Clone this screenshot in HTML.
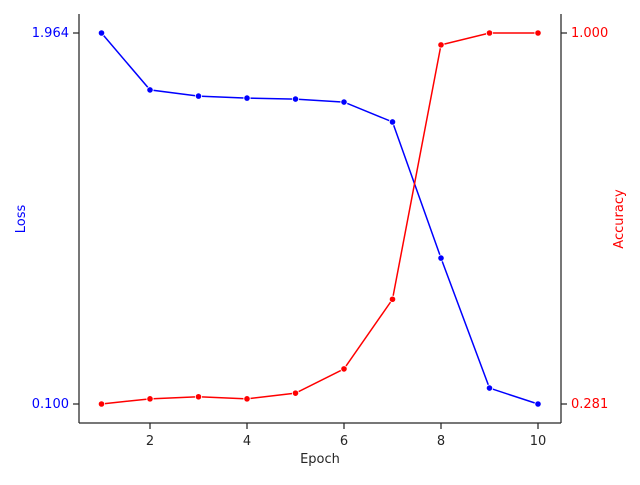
<!DOCTYPE html>
<html><head><meta charset="utf-8"><style>
body{margin:0;background:#fff;}
text{font-family:"DejaVu Sans","Liberation Sans",sans-serif;font-size:13px;}
</style></head><body>
<svg id="chart" width="640" height="480">
<g id="g"></g>
</svg>
<script>
const epochs=[1,2,3,4,5,6,7,8,9,10];
const loss=[1.964,1.678,1.647,1.637,1.632,1.617,1.517,0.833,0.180,0.100];
const accuracy=[0.281,0.291,0.295,0.291,0.302,0.349,0.484,0.977,1.0,1.0];
const xTicks=[2,4,6,8,10];
const lossTicks=[0.100,1.964];
const accTicks=[0.281,1.000];
const NS='http://www.w3.org/2000/svg';
const g=document.getElementById('g');
function el(t,a,p){const e=document.createElementNS(NS,t);for(const k in a)e.setAttribute(k,a[k]);(p||g).appendChild(e);return e;}
const L=79,R=561,T=14,B=423;
const xs=v=>101.5+(v-1)*48.5;
const lmin=Math.min(...loss),lmax=Math.max(...loss);
const amin=Math.min(...accuracy),amax=Math.max(...accuracy);
const yl=v=>404-(v-lmin)/(lmax-lmin)*371;
const ya=v=>404-(v-amin)/(amax-amin)*371;
let e;
e=el('line',{x1:L,y1:T,x2:L,y2:B,stroke:'#262626','stroke-width':1.25});

e=el('line',{x1:R,y1:T,x2:R,y2:B,stroke:'#262626','stroke-width':1.25});

e=el('line',{x1:L,y1:B,x2:R,y2:B,stroke:'#262626','stroke-width':1.25});

xTicks.forEach(v=>{const x=xs(v);
 el('line',{x1:x,y1:B,x2:x,y2:B+6,stroke:'#262626','stroke-width':1.25});
 e=el('text',{x:x,y:B+22,'text-anchor':'middle',fill:'#262626'});e.textContent=v;
 });
lossTicks.forEach(v=>{const y=yl(v);
 el('line',{x1:L-6,y1:y,x2:L,y2:y,stroke:'#262626','stroke-width':1.25});
 e=el('text',{x:L-10,y:y+4,'text-anchor':'end',fill:'blue'});e.textContent=v.toFixed(3);
 });
accTicks.forEach(v=>{const y=ya(v);
 el('line',{x1:R,y1:y,x2:R+6,y2:y,stroke:'#262626','stroke-width':1.25});
 e=el('text',{x:R+10,y:y+4,'text-anchor':'start',fill:'red'});e.textContent=v.toFixed(3);
 });
e=el('text',{x:320,y:463,'text-anchor':'middle',fill:'#262626'});e.textContent='Epoch';

e=el('text',{x:25,y:219,'text-anchor':'middle',fill:'blue',transform:'rotate(-90 25 219)'});e.textContent='Loss';

e=el('text',{x:623,y:219,'text-anchor':'middle',fill:'red',transform:'rotate(-90 623 219)'});e.textContent='Accuracy';

function series(vals,ys,col,name){
 e=el('polyline',{points:vals.map((v,i)=>xs(epochs[i])+','+ys(v)).join(' '),fill:'none',stroke:col,'stroke-width':1.5});
 
 vals.forEach((v,i)=>{e=el('circle',{cx:xs(epochs[i]),cy:ys(v),r:3.2,fill:col,stroke:'#fff','stroke-width':0.8});
 });
}
series(loss,yl,'blue','loss');
series(accuracy,ya,'red','accuracy');
</script>
</body></html>
